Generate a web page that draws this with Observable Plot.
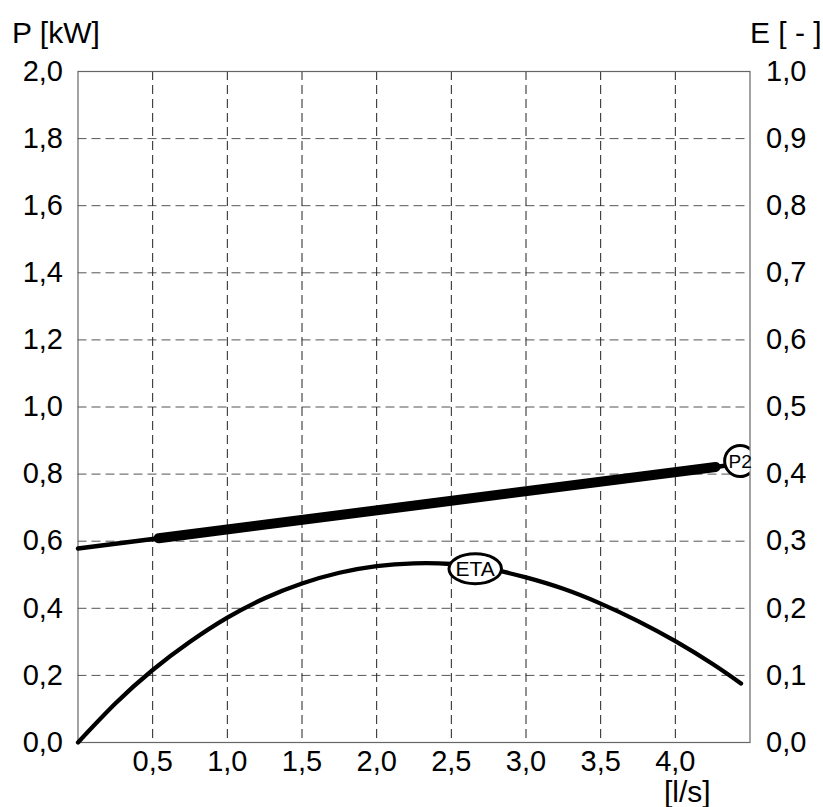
<!DOCTYPE html>
<html>
<head>
<meta charset="utf-8">
<script src="https://cdn.jsdelivr.net/npm/d3@7"></script>
<script src="https://cdn.jsdelivr.net/npm/@observablehq/plot@0.6"></script>
<style>
  html, body { margin: 0; padding: 0; background: #fff; }
  #chart svg { display: block; }
</style>
</head>
<body>
<div id="chart"></div>
<script>
// ---- data ----
const flow = [0, 0.25, 0.5, 0.75, 1.0, 1.25, 1.5, 1.75, 2.0, 2.25, 2.5, 2.75, 3.0, 3.25, 3.5, 3.75, 4.0, 4.25, 4.44];
const eta  = [0, 0.058, 0.108, 0.150, 0.186, 0.215, 0.237, 0.253, 0.263, 0.267, 0.266, 0.259, 0.246, 0.229, 0.207, 0.181, 0.151, 0.117, 0.088];

const p2Flow = [0, 0.54, 4.27, 4.33];
const p2     = [0.578, 0.609, 0.821, 0.825];
const p2ThickFrom = 1, p2ThickTo = 2; // operating range drawn heavy

const xTicks = [0.5, 1.0, 1.5, 2.0, 2.5, 3.0, 3.5, 4.0];
const xTickLabels = ["0,5", "1,0", "1,5", "2,0", "2,5", "3,0", "3,5", "4,0"];
const xGrid = [0.5, 1.0, 1.5, 2.0, 2.5, 3.0, 3.5, 4.0];
const pTicks = [0, 0.2, 0.4, 0.6, 0.8, 1.0, 1.2, 1.4, 1.6, 1.8, 2.0];
const pTickLabels = ["0,0", "0,2", "0,4", "0,6", "0,8", "1,0", "1,2", "1,4", "1,6", "1,8", "2,0"];
const eTickLabels = ["0,0", "0,1", "0,2", "0,3", "0,4", "0,5", "0,6", "0,7", "0,8", "0,9", "1,0"];

const etaLabel = [{name: "ETA", flow: 2.66, value: 0.259 * 2}];
const p2Label  = [{name: "P2",  flow: 4.434, value: 0.839}];

const leftTitle = "P [kW]";
const rightTitle = "E [ - ]";
const xTitle = "[l/s]";

// ---- tables ----
const etaRows = flow.map((f, i) => ({flow: f, e: eta[i]}));
const p2Rows = p2Flow.map((f, i) => ({flow: f, p: p2[i]}));
const p2Thick = p2Rows.slice(p2ThickFrom, p2ThickTo + 1);

const ellipseSymbol = (k) => ({
  draw(context, size) {
    const r = Math.sqrt(size / Math.PI);
    const rx = r * k, ry = r, c = 0.5523;
    context.moveTo(rx, 0);
    context.bezierCurveTo(rx, ry * c, rx * c, ry, 0, ry);
    context.bezierCurveTo(-rx * c, ry, -rx, ry * c, -rx, 0);
    context.bezierCurveTo(-rx, -ry * c, -rx * c, -ry, 0, -ry);
    context.bezierCurveTo(rx * c, -ry, rx, -ry * c, rx, 0);
    context.closePath();
  }
});

const FONT = "'Liberation Sans', Arial, sans-serif";
const TICK_FS = 29;
const TITLE_FS = 30;

const chart = Plot.plot({
  width: 823,
  height: 807,
  marginLeft: 77.5,
  marginRight: 73.5,
  marginTop: 71,
  marginBottom: 65,
  style: {fontFamily: FONT, fontSize: TICK_FS + "px", color: "#000", background: "#fff"},
  x: {domain: [0, 4.5]},
  y: {domain: [0, 2]},
  marks: [
    Plot.gridY(pTicks.slice(1, -1), {stroke: "#555", strokeOpacity: 1, strokeDasharray: "9,5"}),
    Plot.gridX(xGrid, {stroke: "#222", strokeOpacity: 1, strokeDasharray: "9,5"}),
    Plot.frame({stroke: "#666", strokeWidth: 1.2}),
    Plot.axisY(pTicks, {anchor: "left", tickSize: 0, tickPadding: 15, fontSize: TICK_FS, label: null,
      tickFormat: (d, i) => pTickLabels[i]}),
    Plot.axisY(pTicks, {anchor: "right", tickSize: 0, tickPadding: 16, fontSize: TICK_FS, label: null,
      tickFormat: (d, i) => eTickLabels[i]}),
    Plot.axisX(xTicks, {anchor: "bottom", tickSize: 0, tickPadding: 8, fontSize: TICK_FS, label: null,
      tickFormat: (d, i) => xTickLabels[i]}),
    Plot.lineY(etaRows, {x: "flow", y: d => d.e * 2, stroke: "#000", strokeWidth: 4.3,
      curve: "natural", strokeLinecap: "round", strokeLinejoin: "round"}),
    Plot.lineY(p2Rows, {x: "flow", y: "p", stroke: "#000", strokeWidth: 4.5, strokeLinecap: "round"}),
    Plot.lineY(p2Thick, {x: "flow", y: "p", stroke: "#000", strokeWidth: 10, strokeLinecap: "round"}),
    Plot.dot(etaLabel, {x: "flow", y: "value", r: 15, fill: "#fff", stroke: "#000", strokeWidth: 3,
      symbol: ellipseSymbol(1.75)}),
    Plot.dot(p2Label, {x: "flow", y: "value", r: 15.5, fill: "#fff", stroke: "#000", strokeWidth: 3,
      clip: true}),
    Plot.text(etaLabel, {x: "flow", y: "value", text: "name", fontSize: 21, fill: "#000", dy: 1}),
    Plot.text(p2Label, {x: "flow", y: "value", text: "name", fontSize: 19, fill: "#000", dy: 1}),
    Plot.text([leftTitle], {frameAnchor: "top-left", text: d => d, textAnchor: "start",
      lineAnchor: "bottom", dx: -66, dy: -29, fontSize: TITLE_FS}),
    Plot.text([rightTitle], {frameAnchor: "top-right", text: d => d, textAnchor: "start",
      lineAnchor: "bottom", dx: 0, dy: -29, fontSize: TITLE_FS}),
    Plot.text([xTitle], {x: () => 4.08, frameAnchor: "bottom", text: d => d, textAnchor: "middle",
      lineAnchor: "bottom", dy: 59, fontSize: TITLE_FS})
  ]
});

document.getElementById("chart").appendChild(chart);
</script>
</body>
</html>
